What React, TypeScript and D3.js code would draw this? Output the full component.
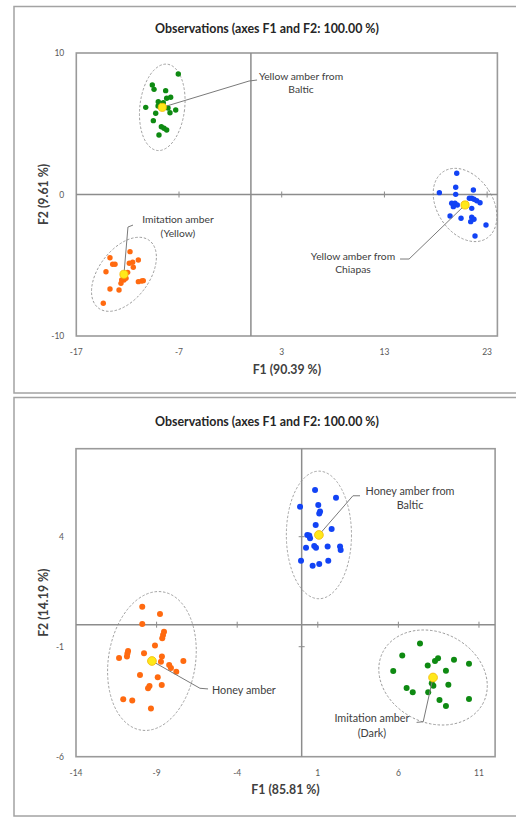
import React from "react";
import * as d3 from "d3";

type Pt = [number, number];

// ---------------- Panel 1 data ----------------
const p1Title = "Observations (axes F1 and F2: 100.00 %)";
const p1XLabel = "F1 (90.39 %)";
const p1YLabel = "F2 (9.61 %)";
const p1XDomain: Pt = [-17, 24];
const p1YDomain: Pt = [-10, 10];
const p1XTicks = [-17, -7, 3, 13, 23];
const p1YTicks = [-10, 0, 10];

const p1YellowBaltic: Pt[] = [
  [-7.07, 8.52], [-9.6, 7.74], [-9.43, 7.43], [-8.3, 7.34], [-7.81, 6.87],
  [-8.2, 6.8], [-9.02, 6.56], [-8.53, 6.49], [-10.24, 6.16], [-7.32, 5.97],
  [-7.88, 5.78], [-9.27, 5.74], [-9.5, 5.22], [-8.72, 4.79], [-8.46, 4.68],
  [-8.2, 4.56], [-8.95, 4.2], [-9.04, 6.25], [-8.07, 6.11],
];
const p1YellowBalticCentroid: Pt = [-8.63, 6.16];

const p1YellowChiapas: Pt[] = [
  [20.04, 1.5], [18.35, 0.13], [19.94, 0.51], [19.94, 0.01], [21.66, 0.32],
  [21.27, -0.27], [21.5, -0.27], [21.72, -0.34], [21.99, -0.44], [22.31, -0.58],
  [19.55, -0.62], [19.87, -0.62], [20.1, -0.74], [19.71, -0.86], [21.5, -0.98],
  [19.39, -1.52], [20.46, -1.68], [21.5, -1.61], [21.72, -1.75], [21.4, -1.92],
  [22.89, -2.16], [21.82, -2.93],
];
const p1YellowChiapasCentroid: Pt = [20.85, -0.74];

const p1ImitationYellow: Pt[] = [
  [-11.77, -4.04], [-13.72, -4.47], [-13.46, -4.93], [-13.23, -4.93], [-11.84, -4.86],
  [-11.51, -4.79], [-10.96, -4.63], [-11.45, -5.14], [-14.11, -5.46], [-12.58, -6.04],
  [-12.36, -6.04], [-12.16, -5.92], [-12.65, -6.28], [-10.96, -6.16], [-10.63, -6.11],
  [-10.48, -6.09], [-13.72, -6.68], [-12.84, -6.75], [-14.37, -7.69], [-12.0, -5.5],
];
const p1ImitationYellowCentroid: Pt = [-12.36, -5.64];

// ---------------- Panel 2 data ----------------
const p2Title = "Observations (axes F1 and F2: 100.00 %)";
const p2XLabel = "F1 (85.81 %)";
const p2YLabel = "F2 (14.19 %)";
const p2XDomain: Pt = [-14, 12];
const p2YDomain: Pt = [-6, 8];
const p2XTicks = [-14, -9, -4, 1, 6, 11];
const p2YTicks = [-6, -1, 4];

const p2HoneyBaltic: Pt[] = [
  [0.83, 6.12], [2.13, 5.77], [-0.1, 5.36], [1.03, 5.44], [1.14, 5.14],
  [1.09, 5.06], [0.87, 4.53], [1.86, 4.35], [0.35, 4.08], [0.47, 4.05],
  [0.52, 3.93], [0.27, 3.5], [0.78, 3.58], [0.89, 3.5], [1.61, 3.55],
  [2.38, 3.55], [2.42, 3.4], [-0.04, 2.91], [0.68, 2.68], [1.09, 2.76],
  [1.65, 2.91],
];
const p2HoneyBalticCentroid: Pt = [1.07, 4.08];

const p2Honey: Pt[] = [
  [-9.89, 0.82], [-8.79, 0.49], [-9.89, 0.03], [-8.54, -0.32], [-8.6, -0.47],
  [-8.65, -0.62], [-9.1, -0.95], [-10.77, -1.19], [-10.81, -1.31], [-10.84, -1.45],
  [-9.78, -1.3], [-11.33, -1.51], [-8.67, -1.45], [-8.73, -1.68], [-8.22, -1.83],
  [-8.11, -1.97], [-7.78, -2.14], [-7.34, -1.65], [-10.03, -2.29], [-8.93, -2.39],
  [-9.44, -2.79], [-9.53, -2.89], [-8.68, -2.74], [-11.07, -3.39], [-10.51, -3.45],
  [-9.35, -3.81],
];
const p2HoneyCentroid: Pt = [-9.29, -1.65];

const p2ImitationDark: Pt[] = [
  [7.34, -0.85], [6.24, -1.4], [5.68, -2.1], [7.82, -1.85], [8.27, -1.65],
  [8.46, -1.53], [9.45, -1.59], [10.38, -1.77], [8.95, -2.09], [8.07, -2.66],
  [8.17, -2.78], [9.1, -2.73], [6.51, -2.88], [6.89, -3.07], [7.85, -3.07],
  [8.55, -3.42], [8.95, -3.7], [10.38, -3.38],
];
const p2ImitationDarkCentroid: Pt = [8.15, -2.4];

// ---------------- config ----------------
const GREEN = "#0e8a12";
const BLUE = "#1243f5";
const ORANGE = "#ff6a10";
const FONT = "Lato, 'Open Sans', sans-serif";

type Group = {
  color: string;
  points: Pt[];
  centroid: Pt;
  ellipse: [number, number, number]; // semi-axis in x units, semi-axis in y units, rotation deg
  leader: Pt[];
  label: string[];
  labelAt: Pt;
  anchor: "start" | "middle" | "end";
};

type PanelCfg = {
  title: string;
  xLabel: string;
  yLabel: string;
  xDomain: Pt;
  yDomain: Pt;
  xTicks: number[];
  yTicks: number[];
  groups: Group[];
  frame: { x: number; y: number; w: number; h: number };
  plot: { l: number; r: number; t: number; b: number };
  titleY: number;
  labelSize: number;
  lineGap: number;
  r: number;
};

const panel1: PanelCfg = {
  title: p1Title,
  xLabel: p1XLabel,
  yLabel: p1YLabel,
  xDomain: p1XDomain,
  yDomain: p1YDomain,
  xTicks: p1XTicks,
  yTicks: p1YTicks,
  groups: [
    {
      color: GREEN, points: p1YellowBaltic, centroid: p1YellowBalticCentroid,
      ellipse: [2.18, 3.07, 6.6],
      leader: [p1YellowBalticCentroid, [-0.18, 8.02], [0.6, 8.09]],
      label: ["Yellow amber from", "Baltic"], labelAt: [4.88, 8.37], anchor: "middle",
    },
    {
      color: BLUE, points: p1YellowChiapas, centroid: p1YellowChiapasCentroid,
      ellipse: [2.71, 2.81, -33],
      leader: [p1YellowChiapasCentroid, [15.4, -4.56], [14.52, -4.56]],
      label: ["Yellow amber from", "Chiapas"], labelAt: [9.94, -4.35], anchor: "middle",
    },
    {
      color: ORANGE, points: p1ImitationYellow, centroid: p1ImitationYellowCentroid,
      ellipse: [2.45, 2.99, 37],
      leader: [p1ImitationYellowCentroid, [-11.97, -2.3], [-11.48, -2.16]],
      label: ["Imitation amber", "(Yellow)"], labelAt: [-7.1, -1.75], anchor: "middle",
    },
  ],
  frame: { x: 14, y: 6.5, w: 520, h: 386.5 },
  plot: { l: 76.3, r: 497.4, t: 53, b: 336 },
  titleY: 28,
  labelSize: 10.3,
  lineGap: 13.3,
  r: 2.7,
};

const panel2: PanelCfg = {
  title: p2Title,
  xLabel: p2XLabel,
  yLabel: p2YLabel,
  xDomain: p2XDomain,
  yDomain: p2YDomain,
  xTicks: p2XTicks,
  yTicks: p2YTicks,
  groups: [
    {
      color: BLUE, points: p2HoneyBaltic, centroid: p2HoneyBalticCentroid,
      ellipse: [2.02, 2.9, 0],
      leader: [p2HoneyBalticCentroid, [3.18, 5.86], [3.62, 5.86]],
      label: ["Honey amber from", "Baltic"], labelAt: [6.72, 6.12], anchor: "middle",
    },
    {
      color: ORANGE, points: p2Honey, centroid: p2HoneyCentroid,
      ellipse: [2.7, 3.18, 8.9],
      leader: [p2HoneyCentroid, [-6.31, -2.89], [-5.81, -2.92]],
      label: ["Honey amber"], labelAt: [-5.56, -2.94], anchor: "start",
    },
    {
      color: GREEN, points: p2ImitationDark, centroid: p2ImitationDarkCentroid,
      ellipse: [3.49, 2.05, 26.4],
      leader: [p2ImitationDarkCentroid, [7.54, -4.41], [7.13, -4.44]],
      label: ["Imitation amber", "(Dark)"], labelAt: [4.36, -4.21], anchor: "middle",
    },
  ],
  frame: { x: 14, y: 397.5, w: 520, h: 418.5 },
  plot: { l: 76, r: 495.1, t: 448.7, b: 756.7 },
  titleY: 421,
  labelSize: 10.8,
  lineGap: 14.3,
  r: 3,
};

function Panel({ cfg }: { cfg: PanelCfg }) {
  const { plot } = cfg;
  const x = d3.scaleLinear().domain(cfg.xDomain).range([plot.l, plot.r]);
  const y = d3.scaleLinear().domain(cfg.yDomain).range([plot.b, plot.t]);
  const kx = Math.abs(x(1) - x(0));
  const ky = Math.abs(y(1) - y(0));
  const line = d3.line<Pt>().x((d) => x(d[0])).y((d) => y(d[1]));
  const x0 = x(0);
  const y0 = y(0);
  const axisColor = "#8c8c8c";
  return (
    <g>
      <rect x={cfg.frame.x} y={cfg.frame.y} width={cfg.frame.w} height={cfg.frame.h}
        fill="#fff" stroke="#a3a3a3" strokeWidth={1.5} />
      <text x={267} y={cfg.titleY} textAnchor="middle" dominantBaseline="central"
        fontFamily={FONT} fontWeight="bold" fontSize={12.4} fill="#262626">{cfg.title}</text>
      <rect x={plot.l} y={plot.t} width={plot.r - plot.l} height={plot.b - plot.t}
        fill="none" stroke="#9a9a9a" strokeWidth={1.6} />
      <line x1={plot.l} x2={plot.r} y1={y0} y2={y0} stroke={axisColor} strokeWidth={1.5} />
      <line x1={x0} x2={x0} y1={plot.t} y2={plot.b} stroke={axisColor} strokeWidth={1.5} />
      {cfg.xTicks.filter((v) => v !== cfg.xDomain[0] && v !== cfg.xDomain[1]).map((v) => (
        <line key={"xt" + v} x1={x(v)} x2={x(v)} y1={y0 - 3} y2={y0 + 3} stroke={axisColor} strokeWidth={1} />
      ))}
      {cfg.yTicks.filter((v) => v !== cfg.yDomain[0] && v !== cfg.yDomain[1] && v !== 0).map((v) => (
        <line key={"yt" + v} x1={x0 - 3} x2={x0 + 3} y1={y(v)} y2={y(v)} stroke={axisColor} strokeWidth={1} />
      ))}
      {cfg.xTicks.map((v) => (
        <text key={"xl" + v} x={x(v)} y={plot.b + 16} textAnchor="middle" dominantBaseline="central"
          fontFamily={FONT} fontSize={8.5} fill="#595959">{v}</text>
      ))}
      {cfg.yTicks.map((v) => (
        <text key={"yl" + v} x={plot.l - 12} y={y(v)} textAnchor="end" dominantBaseline="central"
          fontFamily={FONT} fontSize={8.5} fill="#595959">{v}</text>
      ))}
      <text x={(plot.l + plot.r) / 2} y={plot.b + 33} textAnchor="middle" dominantBaseline="central"
        fontFamily={FONT} fontWeight="bold" fontSize={12.3} fill="#404040">{cfg.xLabel}</text>
      <text transform={`translate(43.5,${(plot.t + plot.b) / 2}) rotate(-90)`} textAnchor="middle"
        dominantBaseline="central" fontFamily={FONT} fontWeight="bold" fontSize={12.3} fill="#404040">{cfg.yLabel}</text>
      {cfg.groups.map((g, i) => {
        const cx = x(g.centroid[0]);
        const cy = y(g.centroid[1]);
        return (
          <ellipse key={"e" + i} cx={cx} cy={cy} rx={g.ellipse[0] * kx} ry={g.ellipse[1] * ky}
            transform={`rotate(${g.ellipse[2]},${cx},${cy})`} fill="none" stroke="#8f8f8f"
            strokeWidth={0.8} strokeDasharray="2.5,1.8" />
        );
      })}
      {cfg.groups.map((g, i) => (
        <g key={"p" + i}>
          {g.points.map((p, j) => (
            <circle key={j} cx={x(p[0])} cy={y(p[1])} r={cfg.r} fill={g.color} />
          ))}
        </g>
      ))}
      {cfg.groups.map((g, i) => (
        <path key={"l" + i} d={line(g.leader) || ""} fill="none" stroke="#7a7a7a" strokeWidth={1} />
      ))}
      {cfg.groups.map((g, i) => (
        <circle key={"c" + i} cx={x(g.centroid[0])} cy={y(g.centroid[1])} r={cfg.r + 1.4}
          fill="#ffe81a" stroke="#f2b705" strokeWidth={0.8} />
      ))}
      {cfg.groups.map((g, i) => (
        <text key={"t" + i} x={x(g.labelAt[0])} y={y(g.labelAt[1])} textAnchor={g.anchor}
          fontFamily={FONT} fontSize={cfg.labelSize} fill="#404040" dominantBaseline="central">
          {g.label.map((s, k) => (
            <tspan key={k} x={x(g.labelAt[0])} dy={k === 0 ? 0 : cfg.lineGap}>{s}</tspan>
          ))}
        </text>
      ))}
    </g>
  );
}

export default function App() {
  return (
    <svg width={516} height={817} style={{ position: "absolute", left: 0, top: 0, background: "#fff" }}>
      <rect x={0} y={0} width={516} height={817} fill="#fff" />
      <Panel cfg={panel1} />
      <Panel cfg={panel2} />
    </svg>
  );
}
